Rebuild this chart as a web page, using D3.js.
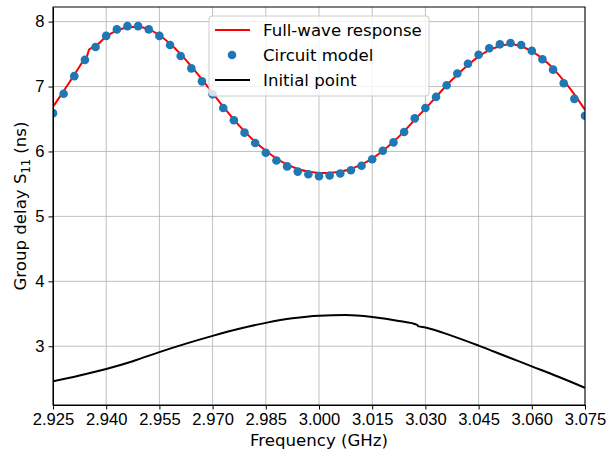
<!DOCTYPE html>
<html lang="en">
<head>
    <meta charset="UTF-8">
    <script src="https://d3js.org/d3.v7.min.js"></script>
    <title>Group delay S11</title>
    <style>
        body { margin: 0; background: #fff; }
        svg { font-family: "DejaVu Sans", sans-serif; }
        .grid line { stroke: #b0b0b0; stroke-width: 0.8; }
        .axis text { font-size: 16.6px; fill: #000; }
        .axis path, .axis line { stroke: #000; }
    </style>
</head>
<body>
    <svg width="608" height="452"></svg>

    <script>
        // circuit model, sampled every 3 MHz from 2.925 to 3.075 GHz
        var circuitFreq = d3.range(51).map(i => 2.925 + i * 0.003);
        var circuitDelay = [
            6.59, 6.89, 7.16, 7.41, 7.61, 7.78, 7.88, 7.93, 7.93, 7.88,
            7.78, 7.64, 7.47, 7.28, 7.08, 6.88, 6.67, 6.48, 6.29, 6.13,
            5.98, 5.86, 5.77, 5.69, 5.65, 5.62, 5.63, 5.66, 5.71, 5.78,
            5.88, 6.01, 6.14, 6.30, 6.51, 6.67, 6.84, 7.02, 7.20, 7.35,
            7.49, 7.59, 7.65, 7.67, 7.64, 7.55, 7.42, 7.26, 7.05, 6.81,
            6.55
        ];

        // full-wave response (small kink near 2.935 GHz)
        var fullwaveFreq = [
            2.925, 2.928, 2.931, 2.934, 2.9346, 2.9352, 2.937, 2.940, 2.943, 2.946,
            2.949, 2.952, 2.955, 2.958, 2.961, 2.964, 2.967, 2.970, 2.973, 2.976,
            2.979, 2.982, 2.985, 2.988, 2.991, 2.994, 2.997, 3.000, 3.003, 3.006,
            3.009, 3.012, 3.015, 3.018, 3.021, 3.024, 3.027, 3.030, 3.033, 3.036,
            3.039, 3.042, 3.045, 3.048, 3.051, 3.054, 3.057, 3.060, 3.063, 3.066,
            3.069, 3.072, 3.075
        ];
        var fullwaveDelay = [
            6.69, 6.93, 7.18, 7.43, 7.47, 7.57, 7.62, 7.77, 7.86, 7.91,
            7.92, 7.88, 7.79, 7.66, 7.50, 7.31, 7.11, 6.90, 6.69, 6.49,
            6.31, 6.15, 6.01, 5.89, 5.80, 5.73, 5.69, 5.67, 5.67, 5.69,
            5.73, 5.80, 5.89, 6.01, 6.15, 6.31, 6.49, 6.66, 6.84, 7.02,
            7.18, 7.33, 7.46, 7.56, 7.62, 7.65, 7.62, 7.54, 7.43, 7.28,
            7.09, 6.88, 6.64
        ];

        // initial point
        var initialFreq = [
            2.925, 2.9325, 2.940, 2.9475, 2.955, 2.9625, 2.970, 2.9775, 2.985, 2.9925,
            3.000, 3.0075, 3.015, 3.0225, 3.0277, 3.0279, 3.030, 3.0375, 3.045, 3.0525,
            3.060, 3.0675, 3.075
        ];
        var initialDelay = [
            2.46, 2.55, 2.65, 2.77, 2.91, 3.04, 3.16, 3.27, 3.36, 3.43,
            3.47, 3.48, 3.45, 3.39, 3.33, 3.31, 3.29, 3.16, 3.01, 2.85,
            2.69, 2.53, 2.36
        ];

        var xTicks = [2.925, 2.940, 2.955, 2.970, 2.985, 3.000, 3.015, 3.030, 3.045, 3.060, 3.075];
        var yTicks = [3, 4, 5, 6, 7, 8];

        var svg = d3.select('svg'),
            margin = {left: 53, top: 7, right: 23, bottom: 47},
            width = svg.attr('width') - margin.left - margin.right,
            height = svg.attr('height') - margin.top - margin.bottom;

        var g = svg.append('g')
            .attr('transform', 'translate(' + margin.left + ',' + margin.top + ')');

        var xScale = d3.scaleLinear().domain([2.925, 3.075]).range([0, width]);
        var yScale = d3.scaleLinear().domain([2.095, 8.225]).range([height, 0]);

        // grid
        g.append('g').attr('class', 'grid')
            .selectAll('line').data(xTicks).enter().append('line')
            .attr('x1', d => xScale(d)).attr('x2', d => xScale(d))
            .attr('y1', 0).attr('y2', height);
        g.append('g').attr('class', 'grid')
            .selectAll('line').data(yTicks).enter().append('line')
            .attr('x1', 0).attr('x2', width)
            .attr('y1', d => yScale(d)).attr('y2', d => yScale(d));

        g.append('clipPath').attr('id', 'clip')
            .append('rect').attr('width', width).attr('height', height);

        var lineOf = (xs) => d3.line()
            .x((d, i) => xScale(xs[i]))
            .y(d => yScale(d))
            .curve(d3.curveMonotoneX);

        var plot = g.append('g').attr('clip-path', 'url(#clip)');

        plot.append('path')
            .datum(fullwaveDelay)
            .attr('fill', 'none')
            .attr('stroke', '#ff0000')
            .attr('stroke-width', 2)
            .attr('d', lineOf(fullwaveFreq));

        plot.selectAll('.dot')
            .data(circuitDelay)
            .enter().append('circle')
            .attr('class', 'dot')
            .attr('cx', (d, i) => xScale(circuitFreq[i]))
            .attr('cy', d => yScale(d))
            .attr('r', 4.3)
            .attr('fill', '#1f77b4');

        plot.append('path')
            .datum(initialDelay)
            .attr('fill', 'none')
            .attr('stroke', '#000')
            .attr('stroke-width', 2)
            .attr('d', lineOf(initialFreq));

        // axes
        g.append('g')
            .attr('class', 'axis')
            .attr('transform', 'translate(0,' + height + ')')
            .call(d3.axisBottom(xScale).tickValues(xTicks).tickFormat(d3.format('.3f'))
                .tickSize(4.5).tickPadding(4).tickSizeOuter(0));

        g.append('g')
            .attr('class', 'axis')
            .call(d3.axisLeft(yScale).tickValues(yTicks).tickFormat(d3.format('d'))
                .tickSize(4.5).tickPadding(4).tickSizeOuter(0));

        // frame
        g.append('rect')
            .attr('width', width).attr('height', height)
            .attr('fill', 'none').attr('stroke', '#000').attr('stroke-width', 1);

        // axis labels
        svg.append('text')
            .attr('x', margin.left + width / 2)
            .attr('y', 446)
            .attr('text-anchor', 'middle')
            .style('font-size', '16.6px')
            .text('Frequency (GHz)');

        var ylab = svg.append('text')
            .attr('transform', 'translate(26,' + (margin.top + height / 2) + ') rotate(-90)')
            .attr('text-anchor', 'middle')
            .style('font-size', '16.6px');
        ylab.append('tspan').text('Group delay S');
        ylab.append('tspan').attr('dy', 4).style('font-size', '11.5px').text('11');
        ylab.append('tspan').attr('dy', -4).text(' (ns)');

        // legend
        var legend = svg.append('g').attr('transform', 'translate(209,16)');
        legend.append('rect')
            .attr('width', 220).attr('height', 80).attr('rx', 3)
            .attr('fill', '#fff').attr('fill-opacity', 0.8)
            .attr('stroke', '#cccccc');

        var items = [
            {label: 'Full-wave response', type: 'line', color: '#ff0000'},
            {label: 'Circuit model', type: 'dot', color: '#1f77b4'},
            {label: 'Initial point', type: 'line', color: '#000'}
        ];
        items.forEach(function(it, i) {
            var cy = 14 + i * 25;
            if (it.type === 'line') {
                legend.append('line')
                    .attr('x1', 6).attr('x2', 41).attr('y1', cy).attr('y2', cy)
                    .attr('stroke', it.color).attr('stroke-width', 2);
            } else {
                legend.append('circle')
                    .attr('cx', 23).attr('cy', cy).attr('r', 4.3)
                    .attr('fill', it.color);
            }
            legend.append('text')
                .attr('x', 54).attr('y', cy + 6)
                .style('font-size', '16.6px')
                .text(it.label);
        });
    </script>
</body>
</html>
